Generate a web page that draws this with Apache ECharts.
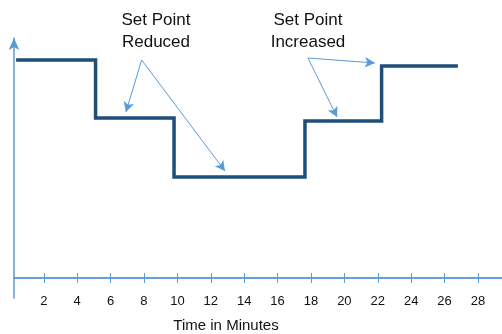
<!DOCTYPE html>
<html><head><meta charset="utf-8">
<script src="https://cdn.jsdelivr.net/npm/echarts@6/dist/echarts.min.js"></script>
<style>html,body{margin:0;padding:0;background:#fff}#c{width:502px;height:334px}</style>
</head><body><div id="c"></div>
<script>
// Data
const timeTicks = [2, 4, 6, 8, 10, 12, 14, 16, 18, 20, 22, 24, 26, 28];
const changeTimes = [0.34, 5.1, 9.8, 17.64, 22.23, 26.8];
const setPoint = [10.9, 8.0, 5.05, 7.85, 10.6, 10.6];
const reducedFrom = [7.86, 10.9];
const reducedTargets = [[6.92, 8.3], [12.85, 5.35]];
const increasedFrom = [17.82, 11.0];
const increasedTargets = [[21.83, 10.75], [19.56, 8.05]];
const reducedText = ['Set Point', 'Reduced'];
const increasedText = ['Set Point', 'Increased'];
const xTitle = 'Time in Minutes';

const AX = '#5b9bd5';
const FONT = '"Liberation Sans", Arial, sans-serif';
const gridRect = {left: 14, right: 0, top: 38, bottom: 36};

const arrowLines = [];
reducedTargets.forEach(t => arrowLines.push([{coord: reducedFrom}, {coord: t}]));
increasedTargets.forEach(t => arrowLines.push([{coord: increasedFrom}, {coord: t}]));

const xBase = {
  type: 'value', min: 0.216, max: 29.44,
  splitLine: {show: false},
  axisLine: {show: true, onZero: true, lineStyle: {color: AX, width: 1.5}}
};
const yBase = {type: 'value', min: -1, max: 12, splitLine: {show: false}, axisLabel: {show: false}, axisTick: {show: false}};

const chart = echarts.init(document.getElementById('c'), null, {renderer: 'canvas'});
chart.setOption({
  animation: false,
  grid: [Object.assign({}, gridRect), Object.assign({}, gridRect)],
  xAxis: [
    Object.assign({}, xBase, {
      gridIndex: 0,
      axisTick: {show: true, inside: false, length: 5, customValues: timeTicks, lineStyle: {color: AX, width: 1}},
      axisLabel: {show: true, customValues: timeTicks, margin: -3, color: '#111', fontSize: 13, fontFamily: FONT}
    }),
    Object.assign({}, xBase, {
      gridIndex: 1,
      axisTick: {show: true, inside: true, length: 5, customValues: timeTicks, lineStyle: {color: AX, width: 1}},
      axisLabel: {show: false}
    })
  ],
  yAxis: [
    Object.assign({}, yBase, {
      gridIndex: 0,
      axisLine: {show: true, onZero: false, symbol: ['none', 'arrow'], symbolSize: [8, 12], lineStyle: {color: AX, width: 1.5}}
    }),
    Object.assign({}, yBase, {gridIndex: 1, axisLine: {show: false}})
  ],
  graphic: [
    {type: 'text', x: 156, y: 20, style: {text: reducedText[0], textAlign: 'center', textVerticalAlign: 'middle', font: '17px ' + FONT, fill: '#111'}},
    {type: 'text', x: 156, y: 42, style: {text: reducedText[1], textAlign: 'center', textVerticalAlign: 'middle', font: '17px ' + FONT, fill: '#111'}},
    {type: 'text', x: 308, y: 20, style: {text: increasedText[0], textAlign: 'center', textVerticalAlign: 'middle', font: '17px ' + FONT, fill: '#111'}},
    {type: 'text', x: 308, y: 42, style: {text: increasedText[1], textAlign: 'center', textVerticalAlign: 'middle', font: '17px ' + FONT, fill: '#111'}},
    {type: 'text', x: 226, y: 326, style: {text: xTitle, textAlign: 'center', textVerticalAlign: 'middle', font: '15px ' + FONT, fill: '#111'}}
  ],
  series: [{
    type: 'line',
    xAxisIndex: 0, yAxisIndex: 0,
    step: 'end',
    data: changeTimes.map((t, i) => [t, setPoint[i]]),
    showSymbol: false,
    lineStyle: {color: '#1f4e79', width: 3.5, join: 'miter'},
    markLine: {
      silent: true,
      symbol: ['none', 'arrow'],
      symbolSize: [8, 10],
      label: {show: false},
      lineStyle: {color: AX, width: 1, type: 'solid'},
      data: arrowLines
    }
  }]
});
</script></body></html>
